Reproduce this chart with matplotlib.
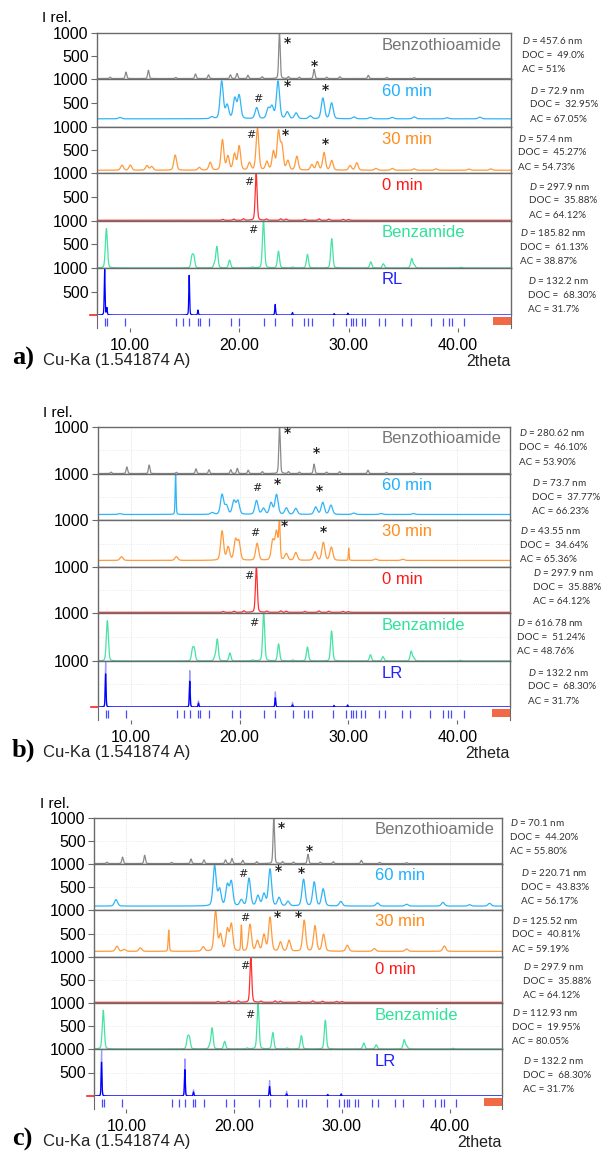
import numpy as np
import matplotlib
matplotlib.use("Agg")
import matplotlib.pyplot as plt
from matplotlib.patches import Rectangle

plt.rcParams['font.family'] = ['Liberation Sans', 'DejaVu Sans']
plt.rcParams['mathtext.fontset'] = 'custom'
plt.rcParams['mathtext.it'] = 'Lato:italic'
plt.rcParams['mathtext.rm'] = 'Lato'

# x axis (2theta)
two_theta = np.arange(7.0, 44.85, 0.01)
x_ticks = [10, 20, 30, 40]
x_tick_labels = ['10.00', '20.00', '30.00', '40.00']

# reference reflections (tick marks under the bottom pattern)
reflections = [7.76, 7.92, 9.59, 14.22, 14.86, 15.43, 16.23, 16.38, 17.2, 19.27, 20.0,
               22.28, 23.29, 24.87, 25.94, 26.27, 26.7, 28.61, 29.74, 30.23, 30.44,
               30.68, 31.2, 31.5, 32.81, 33.33, 34.92, 35.7, 37.5, 38.66, 39.18,
               39.45, 40.58]
scroll_box = (43.2, 44.85)

# peak lists: (2theta, height) or (2theta, height, fwhm)
bta_peaks = [(8.2, 30), (9.65, 140), (11.7, 180), (14.2, 25), (16.0, 100), (17.2, 80),
             (19.2, 80), (19.8, 110), (20.8, 70), (22.1, 40), (23.68, 1000), (24.5, 40),
             (25.5, 30), (26.85, 200), (28.0, 30), (29.2, 40), (31.8, 70), (33.5, 25), (36.0, 20)]
bta_base = 10

min60_a_peaks = [(9.1, 30), (17.5, 40), (18.4, 780), (18.9, 280), (19.6, 420), (20.0, 480),
                 (21.6, 230), (22.65, 210), (23.0, 250), (23.55, 780), (24.4, 140), (25.2, 120),
                 (26.5, 60), (27.65, 430), (28.45, 330), (30.5, 40), (32.0, 30), (34.0, 30),
                 (36.0, 40), (39.0, 25), (42.0, 35)]
min60_a_base = 170

min30_a_peaks = [(9.29, 110), (10.05, 110), (11.57, 100), (12.0, 80), (14.15, 330), (16.35, 60),
                 (17.35, 170), (18.47, 660), (18.97, 300), (19.57, 350), (20.0, 520), (20.94, 160),
                 (21.67, 900), (22.53, 180), (23.13, 400), (23.59, 820), (23.9, 520), (24.45, 200),
                 (25.27, 300), (26.64, 120), (27.15, 180), (27.76, 380), (28.46, 210), (30.14, 100),
                 (30.75, 160), (32.5, 40), (34.0, 40), (36.0, 30), (38.0, 30), (41.0, 25), (43.0, 30)]
min30_a_base = 60

min0_peaks = [(18.5, 20), (19.5, 25), (20.4, 30), (21.55, 1000), (22.5, 25), (23.8, 30), (24.3, 25),
              (26.0, 20), (27.3, 30), (28.2, 25), (29.5, 20), (30.0, 15)]
min0_base = 15

bza_peaks = [(7.86, 840), (15.68, 230), (15.85, 230), (17.75, 80), (17.96, 450), (19.12, 165),
             (21.2, 20), (22.22, 1000), (23.59, 355), (24.9, 20), (26.24, 290), (28.46, 625),
             (32.03, 130), (33.18, 90), (35.77, 200), (36.0, 60), (40.3, 15)]
bza_base = 0

rl_peaks = [(7.7, 1000), (7.9, 150), (15.43, 845), (16.23, 105), (23.29, 225), (24.87, 55),
            (28.68, 30), (29.93, 40)]
lr_light_peaks = [(7.7, 1000), (15.43, 790), (16.23, 130), (23.29, 330), (24.87, 100),
                  (28.68, 40), (29.93, 50)]
lr_dark_peaks = [(7.7, 720), (15.43, 560), (16.23, 85), (23.29, 200), (24.87, 45),
                 (28.68, 30), (29.93, 40)]
rl_base = 0

min60_b_peaks = [(9.0, 20), (14.13, 880, 0.1), (17.5, 40), (18.4, 430), (18.8, 190), (19.48, 290),
                 (19.85, 290), (21.56, 300), (22.2, 130), (22.9, 250), (23.4, 430), (24.3, 140),
                 (25.17, 130), (27.0, 160), (27.65, 260), (28.4, 200), (30.5, 30), (33.0, 20), (36.0, 20)]
min60_b_base = 120

min30_b_peaks = [(9.16, 80), (14.2, 80), (18.4, 620), (18.96, 280), (19.63, 420), (19.94, 390),
                 (21.62, 360), (23.05, 410), (23.4, 600), (23.67, 820, 0.15), (24.3, 140), (25.17, 165),
                 (26.94, 180), (27.7, 380), (28.44, 280), (30.03, 260, 0.08), (32.5, 30), (35.0, 25)]
min30_b_base = 140

min60_c_peaks = [(9.04, 140), (18.19, 870), (18.65, 360), (19.37, 450), (19.74, 520), (20.67, 130),
                 (21.38, 600), (22.21, 220), (22.77, 260), (23.33, 800), (24.17, 180), (25.0, 100),
                 (26.44, 580), (27.43, 520), (28.26, 370), (29.9, 100), (33.3, 70), (36.0, 40),
                 (39.37, 80), (41.84, 30), (43.7, 60)]
min60_c_base = 85

min30_c_peaks = [(9.13, 110), (9.8, 40), (11.3, 75), (13.93, 450, 0.12), (17.13, 95), (18.28, 850),
                 (18.74, 350), (19.37, 460), (19.74, 570), (20.67, 545, 0.12), (21.47, 570), (22.16, 220),
                 (22.77, 350), (23.33, 720), (24.3, 195), (25.1, 230), (26.5, 660), (27.5, 540),
                 (28.3, 360), (30.5, 130), (33.0, 60), (36.0, 50), (39.5, 115)]
min30_c_base = 120

# right-hand results: (D nm, DOC, AC) per row
results_a = [('457.6', '49.0%', '51%'), ('72.9', '32.95%', '67.05%'), ('57.4', '45.27%', '54.73%'),
             ('297.9', '35.88%', '64.12%'), ('185.82', '61.13%', '38.87%'), ('132.2', '68.30%', '31.7%')]
results_b = [('280.62', '46.10%', '53.90%'), ('73.7', '37.77%', '66.23%'), ('43.55', '34.64%', '65.36%'),
             ('297.9', '35.88%', '64.12%'), ('616.78', '51.24%', '48.76%'), ('132.2', '68.30%', '31.7%')]
results_c = [('70.1', '44.20%', '55.80%'), ('220.71', '43.83%', '56.17%'), ('125.52', '40.81%', '59.19%'),
             ('297.9', '35.88%', '64.12%'), ('112.93', '19.95%', '80.05%'), ('132.2', '68.30%', '31.7%')]

# markers: (row, symbol, 2theta, height)
marks_a = [(0, '*', 24.41, 776), (0, '*', 26.88, 290), (1, '#', 21.67, 590), (1, '*', 24.36, 845),
           (1, '*', 27.85, 770), (2, '#', 21.07, 826), (2, '*', 24.2, 826), (2, '*', 27.9, 630),
           (3, '#', 20.85, 820), (4, '#', 21.21, 810)]
marks_b = [(0, '*', 24.37, 880), (0, '*', 27.06, 455), (1, '#', 21.56, 700), (1, '*', 23.46, 780),
           (1, '*', 27.34, 630), (2, '#', 21.4, 730), (2, '*', 24.16, 870), (2, '*', 27.73, 750),
           (3, '#', 20.85, 800), (4, '#', 21.31, 785)]
marks_c = [(0, '*', 24.42, 775), (0, '*', 26.96, 290), (1, '#', 20.82, 780), (1, '*', 24.11, 850),
           (1, '*', 26.28, 810), (2, '#', 20.98, 825), (2, '*', 24.02, 860), (2, '*', 25.94, 845),
           (3, '#', 21.0, 800), (4, '#', 21.47, 740)]

row_names = ['Benzothioamide', '60 min', '30 min', '0 min', 'Benzamide']
trace_colors = ['#8a8a8a', '#2fb4f8', '#ff9a3c', '#ff3030', '#45e3a4', '#0000ff']
label_colors = ['#767676', '#1eb0ff', '#ff8c1a', '#ff1a1a', '#2fe39a', '#2020ff']


def profile(peaks, base, fwhm):
    y = np.full_like(two_theta, float(base))
    for p in peaks:
        w = p[2] if len(p) > 2 else fwhm
        d = (two_theta - p[0]) / w
        y += p[1] * (0.75 * np.exp(-4 * np.log(2) * d ** 2) + 0.25 / (1 + 4 * d ** 2))
    return y


def fx(px):
    return px / 601


def fy(py):
    return 1 - py / 1152


panels = [
    dict(letter='a)', edges=[33, 79, 127, 173, 221, 268, 315], left=97, right=511, grid=False,
         mid=True, label_x=382, irel=(42, 18), foot=365, last='RL', results=results_a, marks=marks_a,
         ann=[(522, 41), (530, 90), (518, 138), (529, 186), (520, 233), (528, 281)],
         traces=[[(bta_peaks, bta_base, 0.16)], [(min60_a_peaks, min60_a_base, 0.34)],
                 [(min30_a_peaks, min30_a_base, 0.3)], [(min0_peaks, min0_base, 0.2)],
                 [(bza_peaks, bza_base, 0.22)], [(rl_peaks, rl_base, 0.09)]]),
    dict(letter='b)', edges=[427, 474, 520, 567, 613, 661, 707], left=98, right=510, grid=True,
         mid=False, label_x=382, irel=(43, 413), foot=757, last='LR', results=results_b, marks=marks_b,
         ann=[(519, 433), (532, 483), (520, 531), (533, 573), (517, 623), (528, 672)],
         traces=[[(bta_peaks, bta_base, 0.16)], [(min60_b_peaks, min60_b_base, 0.34)],
                 [(min30_b_peaks, min30_b_base, 0.32)], [(min0_peaks, min0_base, 0.2)],
                 [(bza_peaks, bza_base, 0.22)],
                 [(lr_light_peaks, rl_base, 0.09), (lr_dark_peaks, rl_base, 0.09)]]),
    dict(letter='c)', edges=[818, 864, 910, 957, 1003, 1049, 1096], left=94, right=502, grid=True,
         mid=True, label_x=375, irel=(40, 804), foot=1146, last='LR', results=results_c, marks=marks_c,
         ann=[(510, 823), (521, 873), (512, 920), (523, 967), (512, 1013), (523, 1061)],
         traces=[[(bta_peaks, bta_base, 0.16)], [(min60_c_peaks, min60_c_base, 0.34)],
                 [(min30_c_peaks, min30_c_base, 0.32)], [(min0_peaks, min0_base, 0.2)],
                 [(bza_peaks, bza_base, 0.22)],
                 [(lr_light_peaks, rl_base, 0.09), (lr_dark_peaks, rl_base, 0.09)]]),
]

fig = plt.figure(figsize=(6.01, 11.52), dpi=100)
frame = '#6a6a6a'

for pan in panels:
    e = pan['edges']
    L, R = pan['left'], pan['right']
    for i in range(6):
        ax = fig.add_axes([fx(L), fy(e[i + 1]), fx(R) - fx(L), (e[i + 1] - e[i]) / 1152])
        ax.set_xlim(7.0, 44.85)
        ax.set_ylim(0, 1000)
        for k, tr in enumerate(pan['traces'][i]):
            col = trace_colors[i]
            if i == 5 and len(pan['traces'][i]) == 2 and k == 0:
                col = '#9a9aff'
            ax.plot(two_theta, profile(*tr), color=col, lw=0.9)
        if pan['grid']:
            for xv in x_ticks:
                ax.axvline(xv, color='#d8d8d8', lw=0.6, ls=':', zorder=0)
            ax.axhline(500, color='#e4e4e4', lw=0.6, ls=':', zorder=0)
        ax.set_xticks([])
        ax.set_yticks([500, 1000] if pan['mid'] else [1000])
        ax.tick_params(axis='y', length=4, width=0.8, color=frame, labelsize=11.5, pad=2)
        for s in ax.spines.values():
            s.set_color(frame)
            s.set_linewidth(1.0)
        if i == 5:
            ax.spines['bottom'].set_visible(False)
            ax.plot([-0.018, 0], [0, 0], transform=ax.transAxes, color='#ff2020', lw=1.2, clip_on=False)
        name = row_names[i] if i < 5 else pan['last']
        ax.text((pan['label_x'] - L) / (R - L), 1 - 12 / (e[i + 1] - e[i]), name,
                transform=ax.transAxes, color=label_colors[i], fontsize=12, va='center', ha='left')
        for row, sym, xv, yv in pan['marks']:
            if row == i:
                ax.text(xv, yv, sym, fontsize=10 if sym == '*' else 8, ha='center', va='center',
                        color='#222222', family='DejaVu Sans', fontweight='bold' if sym == '*' else 'normal')

    # reflection ticks + x axis
    axt = fig.add_axes([fx(L), fy(e[6] + 13), fx(R) - fx(L), 13 / 1152])
    axt.set_xlim(7.0, 44.85)
    axt.set_ylim(13, 0)
    axt.vlines(reflections, 3, 11, color='#4a4aff', lw=0.9)
    axt.add_patch(Rectangle((scroll_box[0], 2), scroll_box[1] - scroll_box[0], 8, color='#f26a45', lw=0))
    axt.set_yticks([])
    axt.set_xticks(x_ticks)
    axt.set_xticklabels(x_tick_labels)
    axt.tick_params(axis='x', length=3, width=0.8, color=frame, labelsize=11.5, pad=4)
    for side in ['top', 'bottom']:
        axt.spines[side].set_visible(False)
    for side in ['left', 'right']:
        axt.spines[side].set_color(frame)

    # titles and footers
    fig.text(fx(pan['irel'][0]), fy(pan['irel'][1]), 'I rel.', fontsize=11, va='center', ha='left')
    fig.text(fx(12), fy(pan['foot']), pan['letter'], fontsize=19, fontweight='bold',
             family='Liberation Serif', va='baseline', ha='left')
    fig.text(fx(43), fy(pan['foot']), 'Cu-Ka (1.541874 A)', fontsize=12, va='baseline', ha='left',
             color='#222222')
    fig.text(fx(R), fy(pan['foot'] + 1), '2theta', fontsize=11.5, va='baseline', ha='right',
             color='#222222')

    # results on the right
    for (xa, ya), (d, doc, ac) in zip(pan['ann'], pan['results']):
        lines = ['$D$ = %s nm' % d, 'DOC =  %s' % doc, 'AC = %s' % ac]
        for j, t in enumerate(lines):
            fig.text(fx(xa), fy(ya + 14.5 * j), t, fontsize=7.1, family='Lato', color='#333333',
                     va='center', ha='left')

fig.savefig('out.png', dpi=100)
